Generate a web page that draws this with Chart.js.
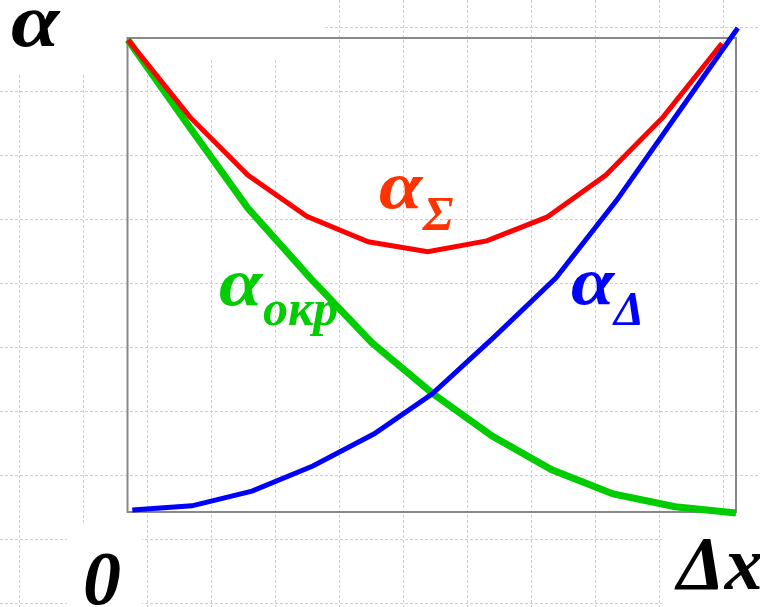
<!DOCTYPE html>
<html>
<head>
<meta charset="utf-8">
<script src="https://cdn.jsdelivr.net/npm/chart.js@4"></script>
<style>
html,body{margin:0;padding:0;background:#fff;}
#wrap{position:relative;width:760px;height:607px;overflow:hidden;}
#c{position:absolute;left:0;top:0;}
.lbl{position:absolute;font-family:"Liberation Serif","Times New Roman",serif;font-weight:bold;font-style:italic;line-height:1;white-space:nowrap;}
.wide{transform:scaleX(1.15);transform-origin:left top;}
</style>
</head>
<body>
<div id="wrap">
<canvas id="c" width="760" height="607"></canvas>
<div class="lbl wide" style="left:11px;top:-18px;font-size:76px;color:#000">α</div>
<div class="lbl wide" style="left:379px;top:151px;font-size:68px;color:#ff3300">α</div>
<div class="lbl" style="left:423px;top:189px;font-size:49px;color:#ff3300">Σ</div>
<div class="lbl wide" style="left:219px;top:248px;font-size:68px;color:#00cc00">α</div>
<div class="lbl" style="left:263px;top:283px;font-size:50px;color:#00cc00">окр</div>
<div class="lbl wide" style="left:571px;top:247px;font-size:68px;color:#0000ff">α</div>
<div class="lbl" style="left:614px;top:285px;font-size:48px;color:#0000ff">Δ</div>
<div class="lbl" style="left:83px;top:540px;font-size:76px;color:#000">0</div>
<div class="lbl" style="left:677px;top:525px;font-size:76px;color:#000">Δx</div>
</div>
<script>
// x positions (Δx, arbitrary units 0..10) and α values (0..100)
const xSigma = [0, 1.02, 1.97, 2.94, 3.95, 4.93, 5.90, 6.89, 7.86, 8.80, 9.77];
const aSigma = [99.6, 83.3, 71.1, 62.4, 57.0, 54.9, 57.2, 62.2, 71.1, 83.3, 98.9];

const xOkr = [0, 0.99, 1.97, 3.01, 4.01, 5.0, 5.99, 6.97, 7.98, 9.0, 10];
const aOkr = [99.6, 81.6, 64.1, 49.2, 35.7, 25.1, 16.0, 8.9, 3.8, 1.1, -0.2];

const xDelta = [0.07, 1.05, 2.04, 3.04, 4.05, 5.0, 6.02, 7.04, 8.04, 9.01, 10.03];
const aDelta = [0.4, 1.3, 4.4, 9.7, 16.5, 24.9, 36.9, 49.4, 65.8, 83.5, 102.1];

const toPts = (xs, ys) => xs.map((x, i) => ({x: x, y: ys[i]}));

const bgPlugin = {
  id: 'bg',
  beforeDraw(chart) {
    const ctx = chart.ctx;
    const W = chart.width, H = chart.height;
    ctx.save();
    ctx.fillStyle = '#fff';
    ctx.fillRect(0, 0, W, H);
    ctx.strokeStyle = 'rgb(190,205,250)';
    ctx.lineWidth = 1;
    ctx.setLineDash([3, 2]);
    ctx.beginPath();
    for (let x = 19; x < W; x += 64) { ctx.moveTo(x + 0.5, 0); ctx.lineTo(x + 0.5, H); }
    for (let y = 27; y < H; y += 64) { ctx.moveTo(0, y + 0.5); ctx.lineTo(W, y + 0.5); }
    ctx.stroke();
    ctx.setLineDash([]);
    ctx.fillStyle = '#fff';
    ctx.fillRect(0, 0, 110, 74);
    ctx.fillRect(0, 0, 323, 60);
    ctx.fillRect(67, 523, 75, 84);
    ctx.fillRect(662, 514, 98, 93);
    ctx.restore();
  },
  beforeDatasetsDraw(chart) {
    const a = chart.chartArea, ctx = chart.ctx;
    ctx.save();
    ctx.strokeStyle = '#888';
    ctx.lineWidth = 2;
    ctx.strokeRect(a.left - 0.5, a.top, a.right - a.left + 0.5, a.bottom - a.top);
    ctx.restore();
  }
};

new Chart(document.getElementById('c'), {
  type: 'line',
  data: {
    datasets: [
      {label: 'αΔ', data: toPts(xDelta, aDelta), borderColor: '#0000ff', borderWidth: 5, clip: false},
      {label: 'αΣ', data: toPts(xSigma, aSigma), borderColor: '#ff0000', borderWidth: 5, clip: false},
      {label: 'αокр', data: toPts(xOkr, aOkr), borderColor: '#00cc00', borderWidth: 7, clip: false}
    ]
  },
  options: {
    responsive: false,
    animation: false,
    devicePixelRatio: 1,
    layout: {padding: {left: 128, right: 24, top: 38, bottom: 95}},
    elements: {point: {radius: 0}, line: {tension: 0, fill: false}},
    plugins: {legend: {display: false}, tooltip: {enabled: false}},
    scales: {
      x: {type: 'linear', min: 0, max: 10, display: false},
      y: {type: 'linear', min: 0, max: 100, display: false}
    }
  },
  plugins: [bgPlugin]
});
</script>
</body>
</html>
